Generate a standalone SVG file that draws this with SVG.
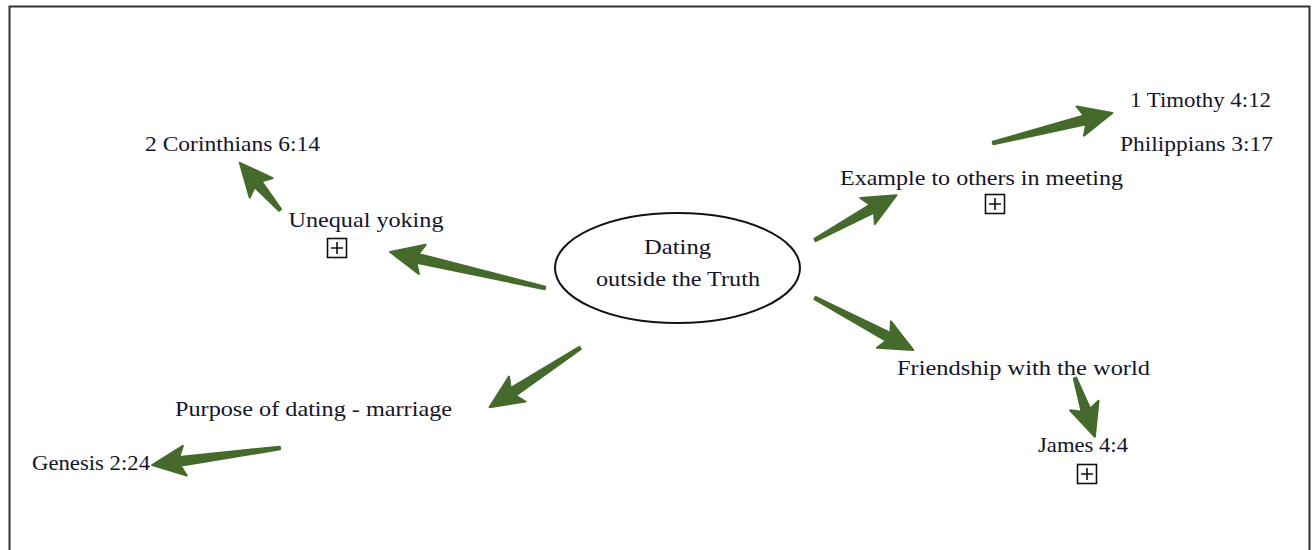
<svg xmlns="http://www.w3.org/2000/svg" width="1312" height="550" viewBox="0 0 1312 550">
<style>
.t{font-family:"Liberation Serif","Times New Roman",serif;font-size:21px;fill:#14142a;text-anchor:middle}
.a{fill:#456a2c;stroke:#456a2c;stroke-width:2;stroke-linejoin:round}
.box{fill:#fff;stroke:#111;stroke-width:1.6}
.plus{stroke:#111;stroke-width:1.6}
</style>
<rect x="0" y="0" width="1312" height="550" fill="#fff"/>
<rect x="9.5" y="6.5" width="1300" height="560" fill="none" stroke="#333" stroke-width="2"/>
<g id="connectors">
<path class="a" transform="translate(545,288) rotate(193.1)" d="M0,-1.3 L131,-4.5 L126,-15 L159,0 L126,15 L131,4.5 L0,1.3 Z"/>
<path class="a" transform="translate(280,210) rotate(229.6)" d="M0,-1.3 L34,-4.5 L29,-15 L62,0 L29,15 L34,4.5 L0,1.3 Z"/>
<path class="a" transform="translate(815,240) rotate(-28.8)" d="M0,-1.3 L65,-4.5 L60,-15 L93,0 L60,15 L65,4.5 L0,1.3 Z"/>
<path class="a" transform="translate(993,143) rotate(-14.1)" d="M0,-1.3 L95,-4.5 L90,-15 L123,0 L90,15 L95,4.5 L0,1.3 Z"/>
<path class="a" transform="translate(815,298) rotate(27.9)" d="M0,-1.3 L83,-4.5 L78,-15 L111,0 L78,15 L83,4.5 L0,1.3 Z"/>
<path class="a" transform="translate(1075,378) rotate(71.3)" d="M0,-1.3 L34,-4.5 L29,-15 L62,0 L29,15 L34,4.5 L0,1.3 Z"/>
<path class="a" transform="translate(580,348) rotate(146.8)" d="M0,-1.3 L80,-4.5 L75,-15 L108,0 L75,15 L80,4.5 L0,1.3 Z"/>
<path class="a" transform="translate(280,448) rotate(172.4)" d="M0,-1.3 L101,-4.5 L96,-15 L129,0 L96,15 L101,4.5 L0,1.3 Z"/>
</g>
<g id="center">
<ellipse cx="677.5" cy="268" rx="122.5" ry="55" fill="#fff" stroke="#111" stroke-width="2"/>
<text class="t" x="677.5" y="254" textLength="67" lengthAdjust="spacingAndGlyphs">Dating</text>
<text class="t" x="678" y="286" textLength="164" lengthAdjust="spacingAndGlyphs">outside the Truth</text>
</g>
<g id="unequal">
<text class="t" x="366" y="227" textLength="155" lengthAdjust="spacingAndGlyphs">Unequal yoking</text>
<rect class="box" x="327.5" y="238.5" width="19" height="19"/>
<path class="plus" d="M331,248 H343 M337,242 V254"/>
</g>
<g id="cor"><text class="t" x="232.5" y="151" textLength="175" lengthAdjust="spacingAndGlyphs">2 Corinthians 6:14</text></g>
<g id="example">
<text class="t" x="981.5" y="185" textLength="283" lengthAdjust="spacingAndGlyphs">Example to others in meeting</text>
<rect class="box" x="985.5" y="194.5" width="19" height="19"/>
<path class="plus" d="M989,204 H1001 M995,198 V210"/>
</g>
<g id="tim"><text class="t" x="1200.5" y="107" textLength="141" lengthAdjust="spacingAndGlyphs">1 Timothy 4:12</text></g>
<g id="phil"><text class="t" x="1196.5" y="151" textLength="153" lengthAdjust="spacingAndGlyphs">Philippians 3:17</text></g>
<g id="friend"><text class="t" x="1023.5" y="375" textLength="253" lengthAdjust="spacingAndGlyphs">Friendship with the world</text></g>
<g id="james">
<text class="t" x="1083" y="452" textLength="90" lengthAdjust="spacingAndGlyphs">James 4:4</text>
<rect class="box" x="1077.5" y="464.5" width="19" height="19"/>
<path class="plus" d="M1081,474 H1093 M1087,468 V480"/>
</g>
<g id="purpose"><text class="t" x="313.5" y="416" textLength="277" lengthAdjust="spacingAndGlyphs">Purpose of dating - marriage</text></g>
<g id="genesis"><text class="t" x="91" y="470" textLength="118" lengthAdjust="spacingAndGlyphs">Genesis 2:24</text></g>
</svg>
